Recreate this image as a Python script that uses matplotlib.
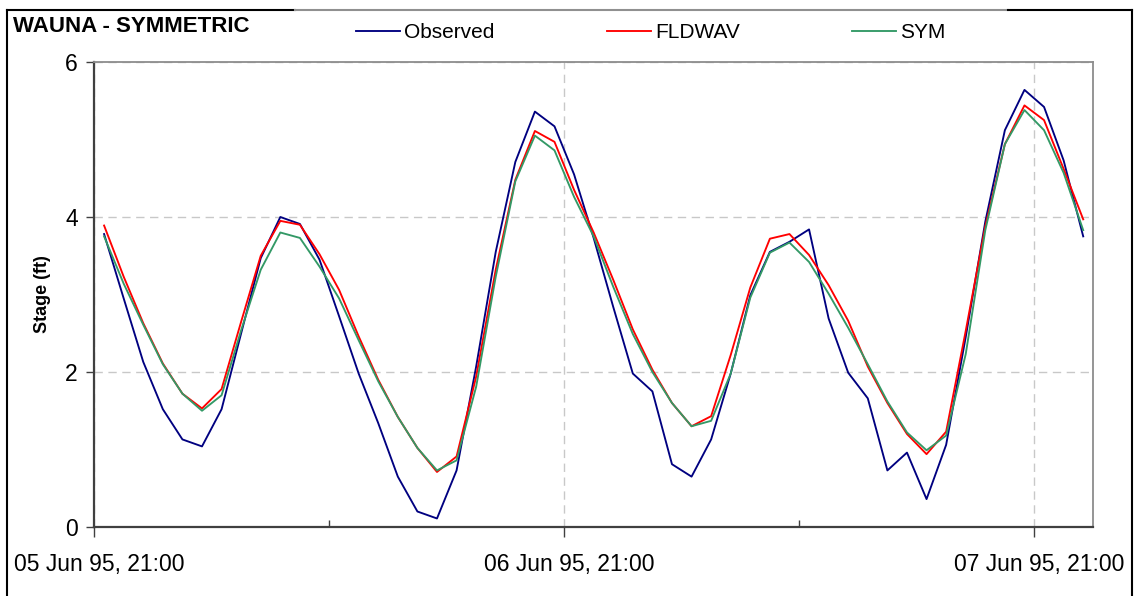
import numpy as np
import pandas as pd
import matplotlib
matplotlib.use('Agg')
from matplotlib import pyplot as plt
from matplotlib import dates as mdates
from matplotlib.lines import Line2D
from matplotlib.transforms import ScaledTranslation

plt.rcParams['font.family'] = ['Liberation Sans', 'DejaVu Sans']

# hourly stage readings at Wauna, starting 05 Jun 1995 21:30
start = '1995-06-05 21:30'
observed = [3.78, 2.95, 2.13, 1.52, 1.13, 1.04, 1.52, 2.50, 3.47, 4.00,
            3.91, 3.45, 2.72, 1.98, 1.34, 0.65, 0.20, 0.11, 0.73, 2.07,
            3.55, 4.71, 5.36, 5.17, 4.55, 3.73, 2.84, 1.98, 1.75, 0.81,
            0.65, 1.13, 1.98, 2.99, 3.55, 3.68, 3.84, 2.69, 1.99, 1.66,
            0.73, 0.96, 0.36, 1.06, 2.45, 3.94, 5.12, 5.64, 5.42, 4.73,
            3.75]
fldwav = [3.89, 3.23, 2.63, 2.11, 1.72, 1.53, 1.78, 2.65, 3.50, 3.95,
          3.90, 3.52, 3.06, 2.46, 1.90, 1.42, 1.02, 0.71, 0.91, 1.94,
          3.32, 4.48, 5.11, 4.97, 4.35, 3.80, 3.19, 2.55, 2.03, 1.60,
          1.30, 1.43, 2.22, 3.09, 3.72, 3.78, 3.51, 3.12, 2.66, 2.07,
          1.60, 1.20, 0.94, 1.23, 2.53, 3.88, 4.94, 5.44, 5.25, 4.62,
          3.97]
sym = [3.75, 3.14, 2.61, 2.10, 1.72, 1.50, 1.70, 2.54, 3.32, 3.80,
       3.73, 3.36, 2.95, 2.41, 1.88, 1.42, 1.02, 0.73, 0.86, 1.81,
       3.23, 4.46, 5.05, 4.86, 4.26, 3.75, 3.10, 2.49, 2.00, 1.60,
       1.30, 1.37, 1.98, 2.96, 3.54, 3.67, 3.42, 3.01, 2.57, 2.10,
       1.62, 1.22, 0.99, 1.18, 2.23, 3.83, 4.94, 5.38, 5.12, 4.57,
       3.83]
series_names = ['Observed', 'FLDWAV', 'SYM']
series_colors = ['#000080', '#FF0000', '#339966']
yticks = [0, 2, 4, 6]

times = pd.date_range(start, periods=len(observed), freq='h')

W, H = 1135, 596
fig = plt.figure(figsize=(W / 100, H / 100), dpi=100)
ax = fig.add_axes([94.3 / W, 1 - 527 / H, (1093 - 94.3) / W, (527 - 62) / H])

for vals, name, col in zip([observed, fldwav, sym], series_names, series_colors):
    ax.plot(times, vals, color=col, lw=1.35, label=name, zorder=3)

ax.set_xlim(pd.Timestamp('1995-06-05 21:00'), pd.Timestamp('1995-06-08 00:00'))
ax.set_ylim(0, 6)
ax.set_yticks(yticks)

ax.xaxis.set_major_locator(mdates.HourLocator(byhour=[21]))
ax.xaxis.set_minor_locator(mdates.HourLocator(byhour=[9]))
ax.xaxis.set_major_formatter(mdates.DateFormatter('%d %b %y, %H:%M'))

ax.grid(True, which='major', color='#c8c8c8', lw=1.0, ls=(0, (6, 4)), zorder=1)

for side in ['left', 'bottom']:
    ax.spines[side].set_color('#404040')
    ax.spines[side].set_linewidth(1.6)
for side in ['top', 'right']:
    ax.spines[side].set_color('#8c8c8c')
    ax.spines[side].set_linewidth(1.3)

ax.tick_params(axis='y', which='major', direction='out', length=6, width=1.0,
               color='#404040', labelsize=16.5, pad=6)
ax.tick_params(axis='x', which='major', direction='out', length=7, width=1.0,
               color='#404040', labelsize=16.5, pad=12)
ax.tick_params(axis='x', which='minor', direction='in', length=5, width=1.0,
               color='#404040')

# date labels sit a little right of their ticks
shift = ScaledTranslation(5 / 100, 0, fig.dpi_scale_trans)
for lbl in ax.xaxis.get_majorticklabels():
    lbl.set_transform(lbl.get_transform() + shift)

ax.set_ylabel('Stage (ft)', fontsize=13, fontweight='bold')
ax.yaxis.set_label_coords(-0.043, 0.5)

fig.text(13 / W, 1 - 32 / H, 'WAUNA - SYMMETRIC', fontsize=16,
         fontweight='bold', va='baseline', ha='left')

fig.legend(loc='center', bbox_to_anchor=(651 / W, 1 - 32.5 / H), ncol=3,
           frameon=False, fontsize=15, handlelength=2.1, handletextpad=0.2,
           columnspacing=5.4, borderpad=0, borderaxespad=0)

# outer chart frame
frame = [((7, 7), (10, 600), 'black'), ((1132, 1132), (10, 600), 'black'),
         ((7, 295), (10, 10), 'black'), ((295, 1008), (10, 10), '#909090'),
         ((1008, 1132), (10, 10), 'black')]
for xs, ys, c in frame:
    fig.add_artist(Line2D([x / W for x in xs], [1 - y / H for y in ys],
                          color=c, lw=1.5, transform=fig.transFigure))

fig.savefig('out.png', dpi=100)
